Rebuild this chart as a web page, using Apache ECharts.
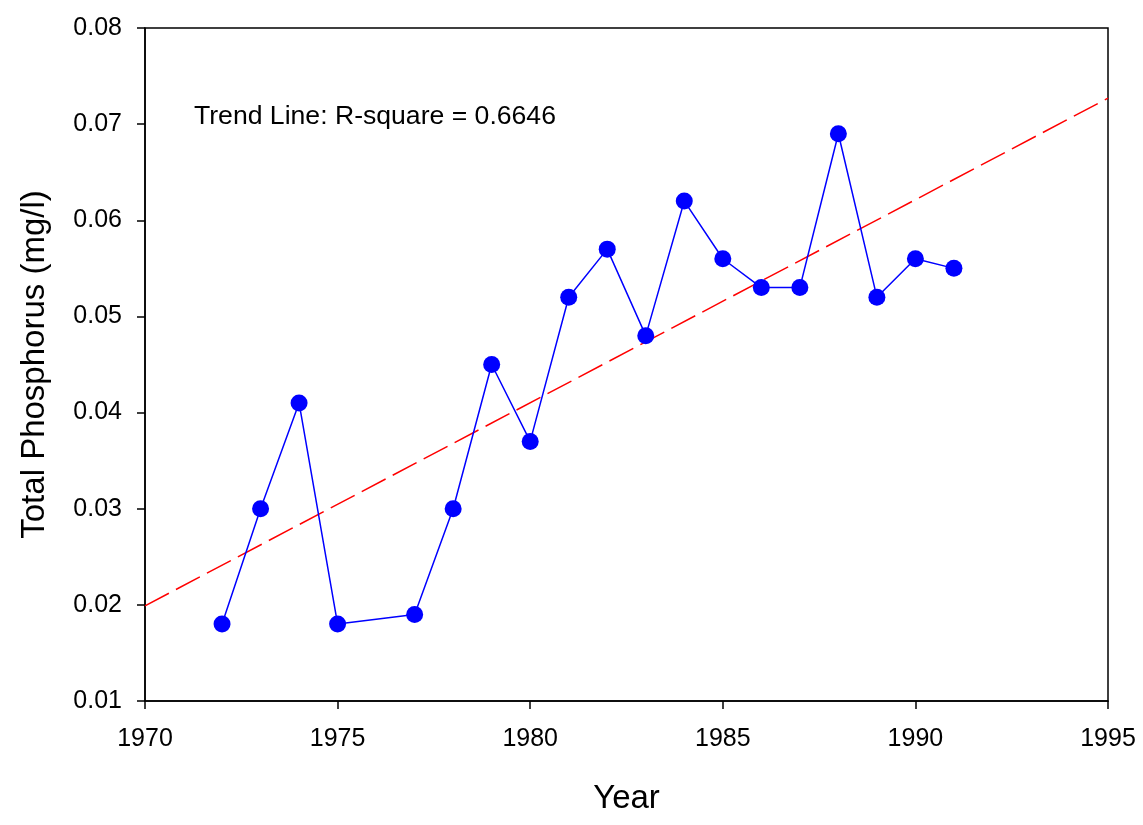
<!DOCTYPE html>
<html>
<head>
<meta charset="utf-8">
<script src="https://cdn.jsdelivr.net/npm/echarts@6/dist/echarts.min.js"></script>
<style>html,body{margin:0;padding:0;background:#fff}#c{width:1143px;height:825px}</style>
</head>
<body>
<div id="c"></div>
<script>
var years = [1972,1973,1974,1975,1977,1978,1979,1980,1981,1982,1983,1984,1985,1986,1987,1988,1989,1990,1991];
var phosphorus = [0.018,0.030,0.041,0.018,0.019,0.030,0.045,0.037,0.052,0.057,0.048,0.062,0.056,0.053,0.053,0.069,0.052,0.056,0.055];
var trendYears = [1970,1995];
var trendValues = [0.0199,0.0727];
var annotation = 'Trend Line: R-square = 0.6646';

var font = 'Liberation Sans, Arial, sans-serif';
var chart = echarts.init(document.getElementById('c'));
chart.setOption({
  animation: false,
  backgroundColor: '#fff',
  grid: {left: 145, top: 28, right: 35, bottom: 124, show: true, borderColor: '#000', borderWidth: 1.5, backgroundColor: 'transparent'},
  xAxis: {
    type: 'value', min: 1970, max: 1995, interval: 5,
    name: 'Year', nameLocation: 'middle', nameGap: 81,
    nameTextStyle: {fontFamily: font, fontSize: 33, color: '#000'},
    axisLine: {lineStyle: {color: '#000', width: 1.5}},
    axisTick: {show: true, inside: false, length: 8, lineStyle: {color: '#000', width: 1.5}},
    axisLabel: {fontFamily: font, fontSize: 25, color: '#000', margin: 26, formatter: function(v){return String(v);}},
    splitLine: {show: false}
  },
  yAxis: {
    type: 'value', min: 0.01, max: 0.08, interval: 0.01,
    name: 'Total Phosphorus (mg/l)', nameLocation: 'middle', nameGap: 94, nameRotate: 90,
    nameTextStyle: {fontFamily: font, fontSize: 33, color: '#000'},
    axisLine: {lineStyle: {color: '#000', width: 1.5}},
    axisTick: {show: true, inside: false, length: 8, lineStyle: {color: '#000', width: 1.5}},
    axisLabel: {fontFamily: font, fontSize: 25, color: '#000', margin: 23, formatter: function(v){return v.toFixed(2);}},
    splitLine: {show: false}
  },
  graphic: [{
    type: 'text', left: 194, top: 103,
    style: {text: annotation, fontFamily: font, fontSize: 26.6, fill: '#000'}
  }],
  series: [
    {
      type: 'line',
      data: trendYears.map(function(y,i){return [y, trendValues[i]];}),
      showSymbol: false, symbol: 'none',
      lineStyle: {color: '#ff0000', width: 1.5, type: [27, 8]},
      z: 1
    },
    {
      type: 'line',
      data: years.map(function(y,i){return [y, phosphorus[i]];}),
      symbol: 'circle', symbolSize: 17,
      itemStyle: {color: '#0000ff'},
      lineStyle: {color: '#0000ff', width: 1.5},
      z: 2
    }
  ]
});
</script>
</body>
</html>
